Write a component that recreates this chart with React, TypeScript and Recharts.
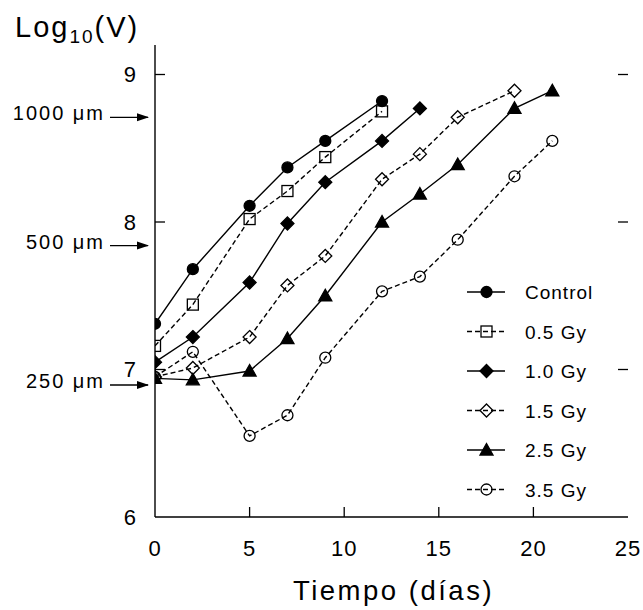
import React from 'react';
import { LineChart, Line, XAxis, YAxis, ReferenceLine } from 'recharts';

const FONT = '"Liberation Sans", Arial, Helvetica, sans-serif';

// axis ranges / ticks
const Y_MIN = 6;
const Y_MAX = 9.2;
const xTicks = [0, 5, 10, 15, 20, 25];
const yTicks = [6, 7, 8, 9];
const xInnerTicks = [5, 10, 15, 20];
const yInnerTicks = [7, 8, 9];

// series values (log10 of tumour volume vs days)
const controlDays = [0, 2, 5, 7, 9, 12];
const controlVals = [7.31, 7.68, 8.11, 8.37, 8.55, 8.82];

const gy05Days = [0, 2, 5, 7, 9, 12];
const gy05Vals = [7.16, 7.44, 8.02, 8.21, 8.44, 8.75];

const gy10Days = [0, 2, 5, 7, 9, 12, 14];
const gy10Vals = [7.05, 7.22, 7.59, 7.99, 8.27, 8.55, 8.77];

const gy15Days = [0, 2, 5, 7, 9, 12, 14, 16, 19];
const gy15Vals = [6.95, 7.01, 7.22, 7.57, 7.77, 8.29, 8.46, 8.71, 8.89];

const gy25Days = [0, 2, 5, 7, 9, 12, 14, 16, 19, 21];
const gy25Vals = [6.94, 6.93, 6.99, 7.21, 7.5, 8.0, 8.19, 8.39, 8.77, 8.89];

const gy35Days = [0, 2, 5, 7, 9, 12, 14, 16, 19, 21];
const gy35Vals = [6.95, 7.12, 6.55, 6.69, 7.08, 7.53, 7.63, 7.88, 8.31, 8.55];

// size marks on the left
const sizeLabels = ['1000 μm', '500 μm', '250 μm'];
const sizeVals = [8.71, 7.84, 6.895];

type Shape = 'circle' | 'square' | 'diamond' | 'triangle';

const series: { name: string; days: number[]; vals: number[]; shape: Shape; filled: boolean; dashed: boolean }[] = [
  { name: 'Control', days: controlDays, vals: controlVals, shape: 'circle', filled: true, dashed: false },
  { name: '0.5 Gy', days: gy05Days, vals: gy05Vals, shape: 'square', filled: false, dashed: true },
  { name: '1.0 Gy', days: gy10Days, vals: gy10Vals, shape: 'diamond', filled: true, dashed: false },
  { name: '1.5 Gy', days: gy15Days, vals: gy15Vals, shape: 'diamond', filled: false, dashed: true },
  { name: '2.5 Gy', days: gy25Days, vals: gy25Vals, shape: 'triangle', filled: true, dashed: false },
  { name: '3.5 Gy', days: gy35Days, vals: gy35Vals, shape: 'circle', filled: false, dashed: true },
];

const W = 643;
const H = 610;
const PLOT_TOP = 45;
const PLOT_BOTTOM = 517;
const PLOT_LEFT = 155;
const PLOT_RIGHT = 628;

const yToPx = (v: number) => PLOT_TOP + ((Y_MAX - v) / (Y_MAX - Y_MIN)) * (PLOT_BOTTOM - PLOT_TOP);

const Marker = ({ cx, cy, shape, filled }: { cx: number; cy: number; shape: Shape; filled: boolean }) => {
  const fill = filled ? '#000' : 'none';
  const common = { fill, stroke: '#000', strokeWidth: 1.3 };
  if (shape === 'circle') return <circle cx={cx} cy={cy} r={5.5} {...common} />;
  if (shape === 'square') return <rect x={cx - 5.5} y={cy - 5.5} width={11} height={11} {...common} />;
  if (shape === 'diamond')
    return <polygon points={`${cx},${cy - 6.5} ${cx + 6.5},${cy} ${cx},${cy + 6.5} ${cx - 6.5},${cy}`} {...common} />;
  return <polygon points={`${cx},${cy - 6.5} ${cx + 6.5},${cy + 5} ${cx - 6.5},${cy + 5}`} {...common} />;
};

const renderDot = (name: string, shape: Shape, filled: boolean) => (p: any) => {
  if (p.cx == null || p.cy == null) return <g key={`${name}-${p.index}`} />;
  return (
    <g key={`${name}-${p.index}`}>
      <Marker cx={p.cx} cy={p.cy} shape={shape} filled={filled} />
    </g>
  );
};

const App = () => {
  const tickStyle = { fill: '#000', fontSize: 22, fontFamily: FONT, letterSpacing: 1 };
  const legendTop = 292;
  const legendStep = 39.5;

  return (
    <div style={{ position: 'absolute', left: 0, top: 0, width: W, height: H, background: '#fff' }}>
      <LineChart width={W} height={H} margin={{ top: PLOT_TOP, right: W - PLOT_RIGHT, left: PLOT_LEFT - 50, bottom: 0 }}>
        <XAxis
          type="number"
          dataKey="d"
          domain={[0, 25]}
          ticks={xTicks}
          allowDataOverflow
          height={H - PLOT_BOTTOM}
          tickLine={false}
          tickSize={0}
          tickMargin={23}
          tick={tickStyle}
          axisLine={{ stroke: '#000', strokeWidth: 1.4 }}
        />
        <XAxis xAxisId="top" orientation="top" type="number" domain={[0, 25]} height={0} tick={false} tickLine={false} axisLine={{ stroke: '#000', strokeWidth: 1.4 }} />
        <YAxis
          type="number"
          domain={[Y_MIN, Y_MAX]}
          ticks={yTicks}
          allowDataOverflow
          width={50}
          tickLine={false}
          tickSize={0}
          tickMargin={18}
          tick={tickStyle}
          axisLine={{ stroke: '#000', strokeWidth: 1.4 }}
        />
        <YAxis yAxisId="right" orientation="right" type="number" domain={[Y_MIN, Y_MAX]} width={0} tick={false} tickLine={false} axisLine={{ stroke: '#000', strokeWidth: 1.4 }} />

        {xInnerTicks.map((t) => (
          <ReferenceLine key={`bx${t}`} segment={[{ x: t, y: Y_MIN }, { x: t, y: Y_MIN + 0.068 }]} stroke="#000" strokeWidth={1.3} />
        ))}
        {yInnerTicks.map((t) => (
          <ReferenceLine key={`ly${t}`} segment={[{ x: 0, y: t }, { x: 0.53, y: t }]} stroke="#000" strokeWidth={1.3} />
        ))}
        {yInnerTicks.map((t) => (
          <ReferenceLine key={`ry${t}`} segment={[{ x: 25, y: t }, { x: 24.47, y: t }]} stroke="#000" strokeWidth={1.3} />
        ))}

        {series.map((s) => (
          <Line
            key={s.name}
            data={s.days.map((d, i) => ({ d, v: s.vals[i] }))}
            dataKey="v"
            type="linear"
            stroke="#000"
            strokeWidth={1.4}
            strokeDasharray={s.dashed ? '5 3' : undefined}
            dot={renderDot(s.name, s.shape, s.filled)}
            activeDot={false}
            isAnimationActive={false}
          />
        ))}
      </LineChart>

      <svg width={W} height={H} style={{ position: 'absolute', left: 0, top: 0, pointerEvents: 'none' }}>
        <defs>
          <marker id="arrowHead" markerWidth="12" markerHeight="10" refX="11" refY="5" orient="auto" markerUnits="userSpaceOnUse">
            <polygon points="0,1 12,5 0,9" fill="#000" />
          </marker>
        </defs>
        <text x={15} y={37} fontFamily={FONT} fontSize={29} letterSpacing={2} fill="#000">
          Log
          <tspan fontSize={19} dy={6}>10</tspan>
          <tspan fontSize={29} dy={-6}>(V)</tspan>
        </text>

        {sizeLabels.map((lab, i) => {
          const y = yToPx(sizeVals[i]);
          return (
            <g key={lab}>
              <text x={105} y={y + 3} textAnchor="end" fontFamily={FONT} fontSize={20} letterSpacing={2} fill="#000">
                {lab}
              </text>
              <line x1={110} y1={y} x2={148} y2={y} stroke="#000" strokeWidth={1.3} markerEnd="url(#arrowHead)" />
            </g>
          );
        })}

        <text x={(PLOT_LEFT + PLOT_RIGHT) / 2 + 2} y={600} textAnchor="middle" fontFamily={FONT} fontSize={27.5} letterSpacing={2.5} fill="#000">
          Tiempo (días)
        </text>

        {series.map((s, i) => {
          const y = legendTop + i * legendStep;
          return (
            <g key={`lg-${s.name}`}>
              <line x1={467} y1={y} x2={505} y2={y} stroke="#000" strokeWidth={1.4} strokeDasharray={s.dashed ? '5 3' : undefined} />
              <Marker cx={486.5} cy={y} shape={s.shape} filled={s.filled} />
              <text x={525} y={y + 7} fontFamily={FONT} fontSize={19} letterSpacing={1} fill="#000">
                {s.name}
              </text>
            </g>
          );
        })}
      </svg>
    </div>
  );
};

export default App;
